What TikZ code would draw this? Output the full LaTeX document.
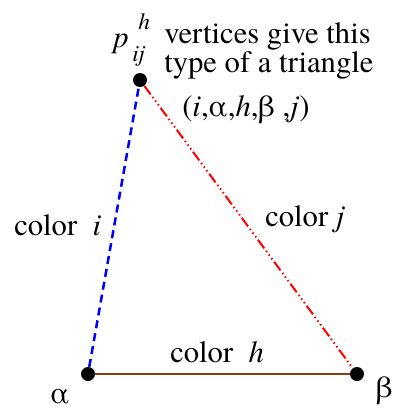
\documentclass[tikz,border=0pt]{standalone}
\usepackage{fontspec}
\setmainfont{texgyretermes}[Extension=.otf, UprightFont=*-regular, ItalicFont=*-italic]
\usepackage{xcolor}
\definecolor{trblue}{HTML}{0000FF}
\definecolor{trred}{HTML}{FF0000}
\definecolor{trbrown}{HTML}{8C3C14}
\usepackage{tikz}
\tikzset{
  trdot/.style   ={circle, fill=black, inner sep=0pt, minimum size=10.5pt},
  trlbl/.style   ={anchor=base west, inner sep=0pt, font=\fontsize{23}{18}\selectfont, align=left},
  tredgei/.style ={draw=trblue, line width=1.9pt, dash pattern=on 6pt off 3.8pt},
  tredgej/.style ={draw=trred, line width=1.5pt,
                   dash pattern=on 8pt off 2.3pt on 1.1pt off 2.3pt on 1.1pt off 2.3pt on 1.1pt off 2.3pt},
  tredgeh/.style ={draw=trbrown, line width=2.2pt},
}
\newcommand{\trscr}{\fontsize{17.5}{17.5}\selectfont\itshape}
\begin{document}
\begin{tikzpicture}[x=0.75pt, y=-0.75pt]
  \useasboundingbox (0,0) rectangle (396,408);
  % vertices of the triangle
  \node[trdot] (p) at (140,80) {};
  \node[trdot] (a) at (88,374) {};
  \node[trdot] (b) at (357,374) {};
  % edges
  \draw[tredgei] (a) -- (p);
  \draw[tredgej] (p) -- (b);
  \draw[tredgeh] (a) -- (b);
  % labels
  \node[trlbl] (plbl) at (113,47) {\itshape p\rlap{\raisebox{13pt}{\trscr\ \,h}}\raisebox{-11pt}{\trscr\,ij}};
  \node[trlbl] (note) at (164,72) {vertices give this\\type of a triangle};
  \node[trlbl] (tuple) at (182,116) {(\textit{i},α,\textit{h},β ,\textit{j})};
  \node[trlbl] (ci) at (14,235) {color~ \textit{i}};
  \node[trlbl] (cj) at (265,226) {color~\textit{j}};
  \node[trlbl] (ch) at (170,362) {color~ \textit{h}};
  \node[trlbl] (alpha) at (50,403) {α};
  \node[trlbl] (beta) at (376,397) {β};
\end{tikzpicture}
\end{document}
